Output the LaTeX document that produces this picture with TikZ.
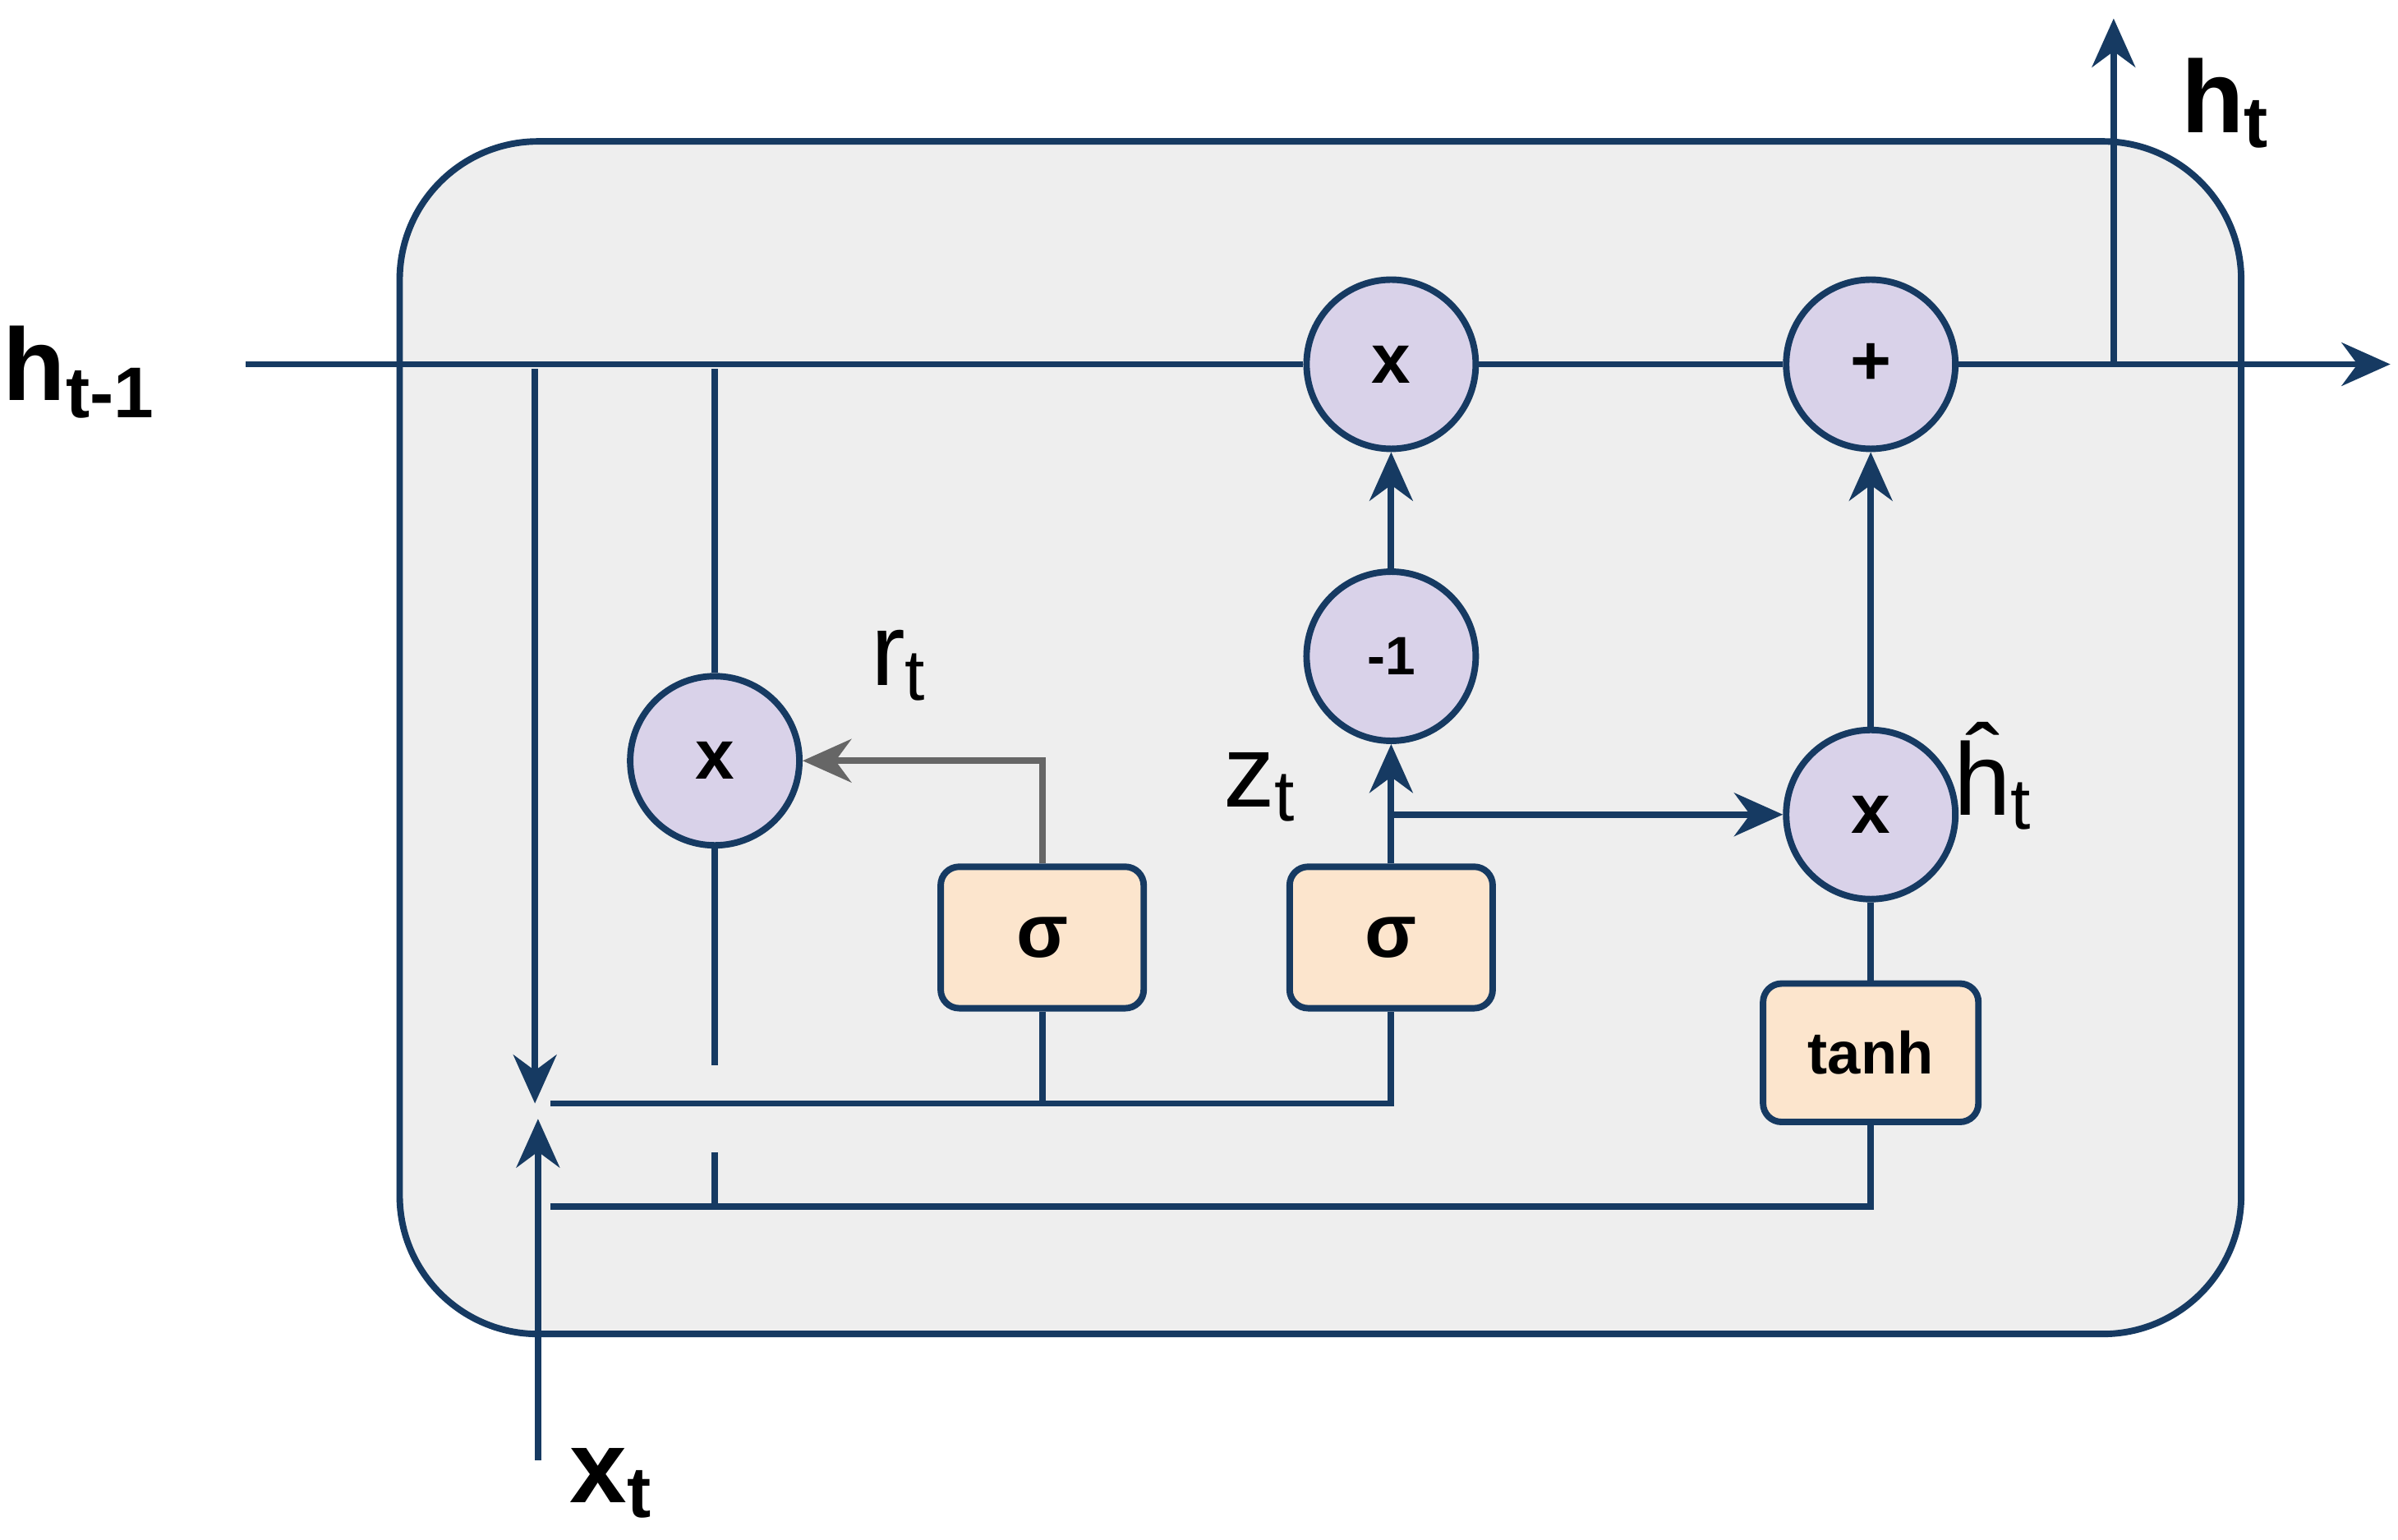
\documentclass[tikz,border=0pt]{standalone}
\usepackage{fontspec}
\setmainfont{Liberation Sans}
\usetikzlibrary{arrows.meta}
\definecolor{dblue}{RGB}{22,58,98}
\definecolor{lav}{RGB}{217,210,233}
\definecolor{peach}{RGB}{252,229,205}
\definecolor{bg}{RGB}{238,238,238}
\begin{document}
\begin{tikzpicture}[x=0.01cm,y=-0.01cm,
  ln/.style={draw=dblue,line width=1.2pt},
  arr/.style={ln,-{Stealth[length=9pt,width=8pt]}},
  op/.style={circle,draw=dblue,line width=1.2pt,fill=lav,minimum size=1.1cm,inner sep=0pt,font=\bfseries\fontsize{13}{13}\selectfont},
  gate/.style={rectangle,rounded corners=0.12cm,draw=dblue,line width=1.2pt,fill=peach,minimum width=1.32cm,minimum height=0.92cm,font=\bfseries\fontsize{14}{14}\selectfont},
  lbl/.style={font=\bfseries\fontsize{19}{19}\selectfont}]
\useasboundingbox (0,0) rectangle (1560,1002);
\draw[ln,fill=bg,rounded corners=0.9cm] (260,92) rectangle (1458,868);
\node[op] (m1) at (905,237) {x};
\node[op] (p) at (1217,237) {+};
\node[op] (neg) at (905,427) {\fontsize{10}{10}\selectfont -1};
\node[op] (mr) at (465,495) {x};
\node[op] (mh) at (1217,530) {x};
\node[gate] (s1) at (678,610) {σ};
\node[gate] (s2) at (905,610) {σ};
\node[gate,minimum width=1.4cm,minimum height=0.9cm,font=\bfseries\fontsize{11}{11}\selectfont] (th) at (1217,685) {tanh};
\coordinate (hin) at (160,237);
\coordinate (hout) at (1555,237);
\coordinate (hup) at (1375,12);
\coordinate (hupb) at (1375,237);
\draw[ln] (hin) -- (m1);
\draw[ln] (m1) -- (p);
\draw[arr] (p) -- (hout);
\draw[arr] (hupb) -- (hup);
\node[lbl] (lh1) at (52,242) {h\textsubscript{t-1}};
\node[lbl] (lht) at (1448,67) {h\textsubscript{t}};
\node[lbl] (lx) at (398,965) {x\textsubscript{t}};
\coordinate (d1) at (348,240); \coordinate (d2) at (348,718);
\draw[arr] (d1) -- (d2);
\coordinate (u1) at (350,950); \coordinate (u2) at (350,728);
\draw[arr] (u1) -- (u2);
\coordinate (mrt) at (465,240); \coordinate (mrb) at (465,693);
\draw[ln] (mrt) -- (mr.north);
\draw[ln] (mr.south) -- (mrb);
\coordinate (a1) at (465,750); \coordinate (a2) at (465,785);
\draw[ln] (a1) -- (a2);
\draw[draw=gray!80!black,line width=1.2pt,-{Stealth[length=9pt,width=8pt]}] (s1.north) |- (mr.east);
\coordinate (l1a) at (358,718); \coordinate (l1b) at (905,718);
\draw[ln] (l1a) -- (l1b) -- (s2.south);
\coordinate (s1b) at (678,718);
\draw[ln] (s1.south) -- (s1b);
\coordinate (l2a) at (358,785); \coordinate (l2b) at (1217,785);
\draw[ln] (l2a) -- (l2b) -- (th.south);
\draw[ln] (th.north) -- (mh.south);
\draw[arr] (s2.north) -- (neg.south);
\draw[arr] (neg.north) -- (m1.south);
\coordinate (br) at (905,530);
\draw[arr] (br) -- (mh.west);
\draw[arr] (mh.north) -- (p.south);
\node[font=\fontsize{19}{19}\selectfont] (lr) at (585,433) {r\textsubscript{t}};
\node[font=\fontsize{19}{19}\selectfont] (lz) at (820,512) {z\textsubscript{t}};
\node[font=\fontsize{19}{19}\selectfont] (lhh) at (1297,505) {\^{h}\textsubscript{t}};
\end{tikzpicture}
\end{document}
